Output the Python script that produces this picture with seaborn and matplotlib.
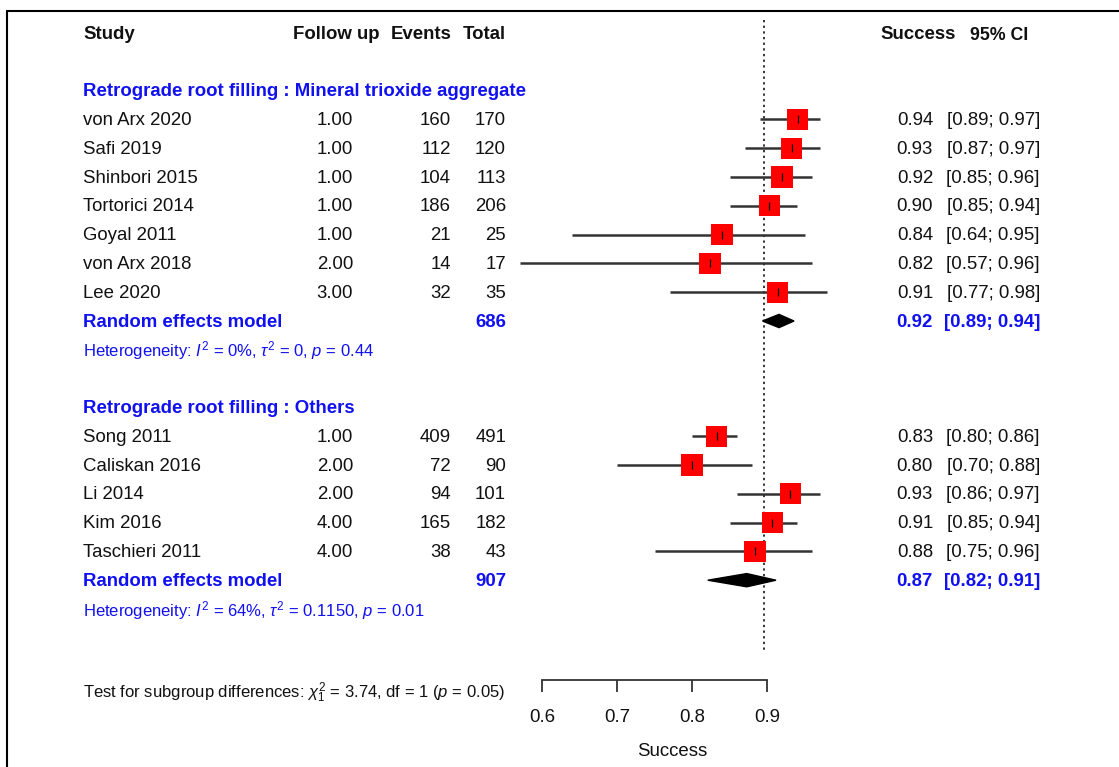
import pandas as pd
import matplotlib.pyplot as plt
import seaborn as sns
from matplotlib.patches import Polygon
from matplotlib.lines import Line2D
from matplotlib.transforms import blended_transform_factory

# ---- data ----
studies1 = ['von Arx 2020', 'Safi 2019', 'Shinbori 2015', 'Tortorici 2014',
            'Goyal 2011', 'von Arx 2018', 'Lee 2020']
follow1 = [1.00, 1.00, 1.00, 1.00, 1.00, 2.00, 3.00]
events1 = [160, 112, 104, 186, 21, 14, 32]
total1 = [170, 120, 113, 206, 25, 17, 35]
est1 = [0.941, 0.933, 0.920, 0.903, 0.840, 0.824, 0.914]
lo1 = [0.89, 0.87, 0.85, 0.85, 0.64, 0.57, 0.77]
hi1 = [0.97, 0.97, 0.96, 0.94, 0.95, 0.96, 0.98]

studies2 = ['Song 2011', 'Caliskan 2016', 'Li 2014', 'Kim 2016', 'Taschieri 2011']
follow2 = [1.00, 2.00, 2.00, 4.00, 4.00]
events2 = [409, 72, 94, 165, 38]
total2 = [491, 90, 101, 182, 43]
est2 = [0.833, 0.800, 0.931, 0.907, 0.884]
lo2 = [0.80, 0.70, 0.86, 0.85, 0.75]
hi2 = [0.86, 0.88, 0.97, 0.94, 0.96]

groups = ['Retrograde root filling : Mineral trioxide aggregate',
          'Retrograde root filling : Others']
re_total = [686, 907]
re_est = [0.916, 0.873]
re_lo = [0.894, 0.821]
re_hi = [0.936, 0.912]
het_text = [r'Heterogeneity: $I^2$ = 0%, $\tau^2$ = 0, $p$ = 0.44',
            r'Heterogeneity: $I^2$ = 64%, $\tau^2$ = 0.1150, $p$ = 0.01']
test_text = r'Test for subgroup differences: $\chi^2_1$ = 3.74, df = 1 ($p$ = 0.05)'
ref_value = 0.896
ticks = [0.6, 0.7, 0.8, 0.9]

sns.set_style('white')
plt.rcParams['font.family'] = ['Liberation Sans', 'DejaVu Sans']
plt.rcParams['mathtext.fontset'] = 'custom'
plt.rcParams['mathtext.rm'] = 'Liberation Sans'
plt.rcParams['mathtext.it'] = 'Liberation Sans:italic'
plt.rcParams['mathtext.bf'] = 'Liberation Sans:bold'

W, H = 1119, 767
fig = plt.figure(figsize=(W / 100, H / 100), dpi=100)

ax_bottom = 680
ax = fig.add_axes([0, 1 - ax_bottom / H, 1, ax_bottom / H])
x0_px, px_per_unit = 542, 750
ax.set_xlim(0.6 - x0_px / px_per_unit, 0.6 + (W - x0_px) / px_per_unit)
row0, row_h = 33, 28.8
ax.set_ylim((ax_bottom - row0) / row_h, -row0 / row_h)


def row_of(py):
    return (py - row0) / row_h


tr = blended_transform_factory(fig.transFigure, ax.transData)
BLUE = '#1010f0'
INK = '#111111'
FS = 13.4
FS_SMALL = 12
TXT_DY = 0.04  # text sits a hair lower than the marks

rows1 = list(range(3, 3 + len(studies1)))
rows2 = list(range(14, 14 + len(studies2)))
df = pd.DataFrame({
    'study': studies1 + studies2,
    'follow': follow1 + follow2,
    'events': events1 + events2,
    'total': total1 + total2,
    'est': est1 + est2,
    'lo': lo1 + lo2,
    'hi': hi1 + hi2,
    'row': rows1 + rows2,
})


def txt(xpx, row, s, ha='left', color=INK, weight='normal', size=FS):
    ax.text(xpx / W, row + TXT_DY, s, transform=tr, ha=ha, va='center',
            color=color, fontweight=weight, fontsize=size, clip_on=False)


# header
txt(83, 0, 'Study', weight='bold')
txt(380, 0, 'Follow up', ha='right', weight='bold')
txt(452, 0, 'Events', ha='right', weight='bold')
txt(506, 0, 'Total', ha='right', weight='bold')
txt(880, 0, 'Success', weight='bold')
txt(970, 0.05, '95% CI', weight='bold', size=12.8)

# study rows
for _, r in df.iterrows():
    txt(83, r['row'], r['study'])
    txt(353, r['row'], f"{r['follow']:.2f}", ha='right')
    txt(451, r['row'], f"{r['events']:d}", ha='right')
    txt(506, r['row'], f"{r['total']:d}", ha='right')
    txt(933, r['row'], f"{r['est']:.2f}", ha='right')
    txt(1040, r['row'], f"[{r['lo']:.2f}; {r['hi']:.2f}]", ha='right')

# confidence intervals, squares and centre ticks
ax.hlines(df['row'], df['lo'], df['hi'], color='#333333', lw=1.8, zorder=2)
sns.scatterplot(data=df, x='est', y='row', marker='s', s=235, color='#ff0000',
                edgecolor='none', ax=ax, legend=False, zorder=3)
ax.scatter(df['est'], df['row'], marker='|', s=30, color='black', lw=0.9, zorder=4)

# subgroup labels, pooled estimates and heterogeneity
title_rows = [2, 13]
re_rows = [10, 19]
for g in range(2):
    txt(83, title_rows[g], groups[g], color=BLUE, weight='bold')
    r = re_rows[g]
    txt(83, r, 'Random effects model', color=BLUE, weight='bold')
    txt(506, r, f'{re_total[g]}', ha='right', color=BLUE, weight='bold')
    txt(933, r, f'{re_est[g]:.2f}', ha='right', color=BLUE, weight='bold')
    txt(1040, r, f'[{re_lo[g]:.2f}; {re_hi[g]:.2f}]', ha='right', color=BLUE, weight='bold')
    txt(83, r + 1, het_text[g], color=BLUE, size=FS_SMALL)
    hh = 0.23
    ax.add_patch(Polygon([(re_lo[g], r), (re_est[g], r - hh), (re_hi[g], r),
                          (re_est[g], r + hh)], closed=True,
                         facecolor='black', edgecolor='black', zorder=3))

# reference line
ax.vlines(ref_value, row_of(20), row_of(653), color='black', lw=1.1,
          linestyles=(0, (1.5, 2.2)), zorder=1)

txt(83, row_of(692), test_text, size=FS_SMALL)

# x axis
for side in ['top', 'left', 'right']:
    ax.spines[side].set_visible(False)
ax.spines['bottom'].set_bounds(ticks[0], ticks[-1])
ax.spines['bottom'].set_linewidth(1.3)
ax.spines['bottom'].set_color('#333333')
ax.set_xticks(ticks)
ax.set_xticklabels([f'{t:.1f}' for t in ticks])
ax.set_yticks([])
ax.tick_params(axis='x', bottom=True, direction='out', length=8.6, width=1.3,
               color='#333333', labelsize=FS, labelcolor=INK, pad=12)
ax.set_xlabel('')
ax.set_ylabel('')
txt(672, row_of(750), 'Success', ha='center')

# page border (top and left)
fig.add_artist(Line2D([7 / W, 1], [1 - 11 / H, 1 - 11 / H], transform=fig.transFigure,
                      color='black', lw=1.5))
fig.add_artist(Line2D([7 / W, 7 / W], [0, 1 - 11 / H], transform=fig.transFigure,
                      color='black', lw=1.5))

fig.savefig('out.png', dpi=100)
